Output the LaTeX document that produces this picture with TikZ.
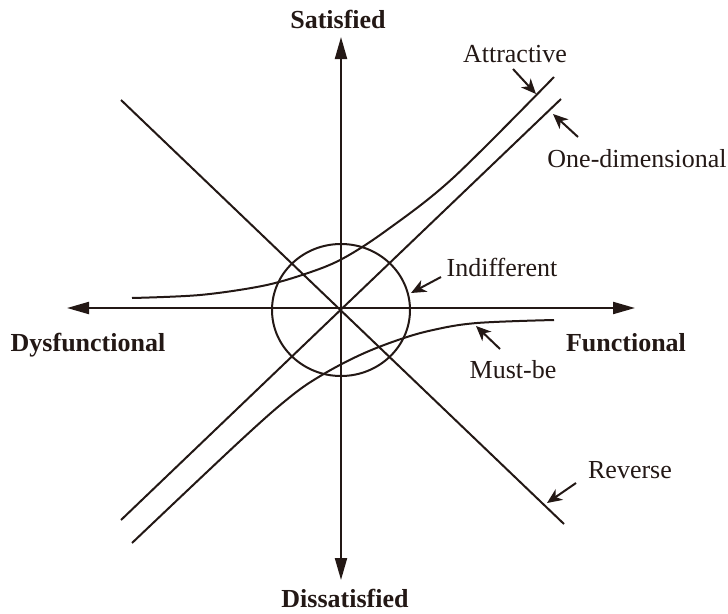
\documentclass[tikz,border=0pt]{standalone}
\usepackage{fontspec}
\setmainfont{Liberation Serif}
\usetikzlibrary{arrows.meta}
\definecolor{ink}{RGB}{35,24,21}
\begin{document}
\begin{tikzpicture}[x=1pt,y=-1pt,
    every node/.style={inner sep=0pt,outer sep=0pt,text=ink,font=\fontsize{26}{30}\selectfont},
    axislabel/.style={font=\fontsize{26}{30}\selectfont\bfseries,anchor=base},
    curvelabel/.style={anchor=base},
    axis/.style={draw=ink,line width=2.1pt,{Triangle[length=22pt,width=12pt]}-{Triangle[length=22pt,width=12pt]}},
    kline/.style={draw=ink,line width=2pt},
    callout/.style={draw=ink,line width=2pt,-{Stealth[length=15pt,width=13pt,inset=4.5pt]}}]
  \useasboundingbox (0,0) rectangle (728,613);

  % axes
  \coordinate (O) at (341,308);
  \coordinate (L) at (67,308);
  \coordinate (R) at (635,308);
  \coordinate (T) at (341,37);
  \coordinate (B) at (341,580);
  \draw[axis] (L) -- (R);
  \draw[axis] (B) -- (T);

  % indifferent region
  \draw[kline] (341,310) ellipse [x radius=69pt,y radius=66pt];

  % straight lines: reverse and one-dimensional
  \coordinate (rev-a) at (121,100);
  \coordinate (rev-b) at (564,524);
  \draw[kline] (rev-a) -- (rev-b);
  \coordinate (one-a) at (121,520);
  \coordinate (one-b) at (561,99);
  \draw[kline] (one-a) -- (one-b);

  % attractive curve
  \draw[kline] plot[smooth,tension=0.55] coordinates
    {(132,298) (200,295) (262,286) (305,274) (342,259) (387,230) (453,178) (554,77)};

  % must-be curve
  \draw[kline] plot[smooth,tension=0.6] coordinates
    {(554,320) (477,323) (433,330) (398,340) (360,355) (322,375) (290,397) (240,441) (132,543)};

  % axis labels
  \node[axislabel] (sat) at (338,28) {Satisfied};
  \node[axislabel] (dis) at (345,607) {Dissatisfied};
  \node[axislabel] (dys) at (88,351) {Dysfunctional};
  \node[axislabel] (fun) at (626,351) {Functional};

  % curve labels
  \node[curvelabel] (attr) at (515,62) {Attractive};
  \node[curvelabel] (one) at (637,167) {One-dimensional};
  \node[curvelabel] (ind) at (502,276) {Indifferent};
  \node[curvelabel] (must) at (513,378) {Must-be};
  \node[curvelabel] (rev) at (630,478) {Reverse};

  % callout arrows
  \coordinate (attr-t) at (513,69);   \coordinate (attr-h) at (536,94);
  \coordinate (one-t) at (578,137);   \coordinate (one-h) at (553,114);
  \coordinate (ind-t) at (441,277);   \coordinate (ind-h) at (411,293);
  \coordinate (must-t) at (500,349);  \coordinate (must-h) at (476,326);
  \coordinate (rev-t) at (576,483);   \coordinate (rev-h) at (547,503);
  \draw[callout] (attr-t) -- (attr-h);
  \draw[callout] (one-t) -- (one-h);
  \draw[callout] (ind-t) -- (ind-h);
  \draw[callout] (must-t) -- (must-h);
  \draw[callout] (rev-t) -- (rev-h);
\end{tikzpicture}
\end{document}
